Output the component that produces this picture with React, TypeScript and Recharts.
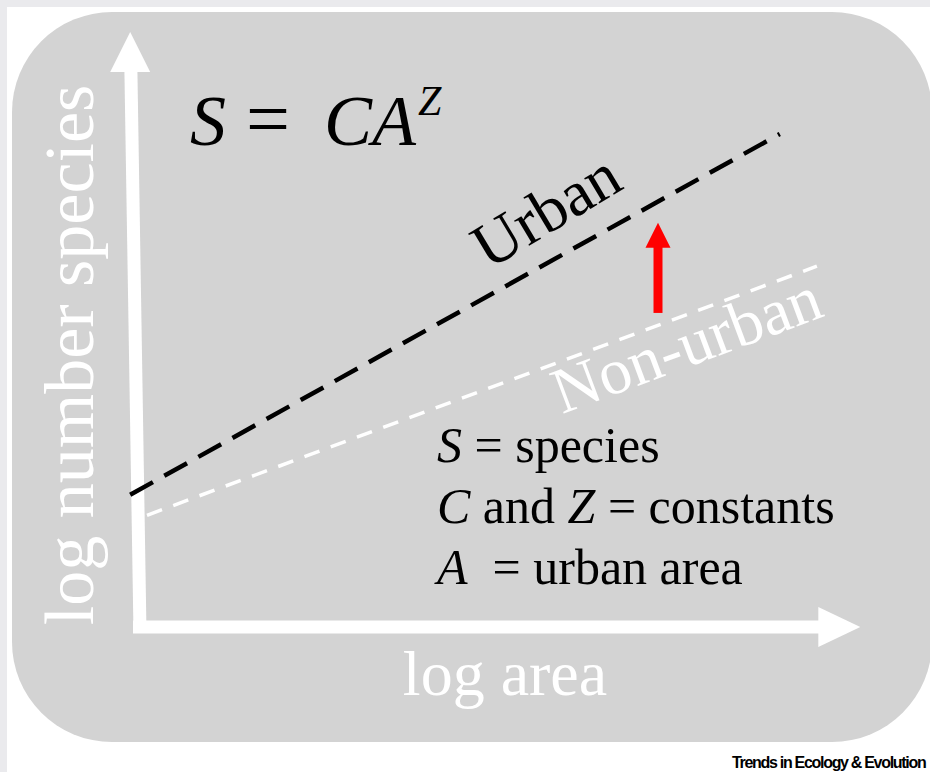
import { ComposedChart, Line, XAxis, YAxis, ReferenceLine, ReferenceDot } from "recharts";

// x = log area, y = log number species (arbitrary units)
const urban = [
  { area: -0.14, species: 2.32 },
  { area: 9.14, species: 8.65 },
];
const nonUrban = [
  { area: 0.1, species: 1.96 },
  { area: 9.67, species: 6.33 },
];

// arrows: [shaft start, shaft end, tip]
const yArrow = [
  { area: 0, species: -0.1 },
  { area: -0.13, species: 9.76 },
  { area: -0.14, species: 10.44 },
];
const xArrow = [
  { area: -0.1, species: 0 },
  { area: 9.71, species: 0 },
  { area: 10.29, species: 0 },
];
const shiftArrow = [
  { area: 7.4, species: 5.51 },
  { area: 7.4, species: 6.7 },
  { area: 7.4, species: 7.09 },
];

const legendLines = [
  { sym: "S", rest: " = species" },
  { sym: "C", rest: " and ", sym2: "Z", rest2: " = constants" },
  { sym: "A", rest: "  = urban area" },
];

const SERIF = '"Liberation Serif", "Times New Roman", serif';

const Head = (props: any) => {
  const { cx, cy, dir, len, half, fill } = props;
  if (cx == null || cy == null) return null;
  const pts =
    dir === "up"
      ? `${cx},${cy} ${cx - half},${cy + len} ${cx + half},${cy + len}`
      : `${cx},${cy} ${cx - len},${cy - half} ${cx - len},${cy + half}`;
  return <polygon points={pts} fill={fill} />;
};

const seg = (a: { area: number; species: number }, b: { area: number; species: number }) => [
  { x: a.area, y: a.species },
  { x: b.area, y: b.species },
];

export default function App() {
  return (
    <div
      style={{
        position: "absolute",
        left: 0,
        top: 0,
        width: 930,
        height: 772,
        overflow: "hidden",
        background: "#eaeaed",
        fontFamily: SERIF,
      }}
    >
      <div style={{ position: "absolute", left: 7, top: 7, width: 923, height: 765, background: "#fff" }} />
      <div
        style={{
          position: "absolute",
          left: 12,
          top: 12,
          width: 920,
          height: 730,
          borderRadius: 100,
          background: "#d3d3d3",
        }}
      />
      <div style={{ position: "absolute", left: 0, top: 0 }}>
        <ComposedChart width={930} height={772} margin={{ top: 22.8, right: 62, bottom: 122.2, left: 112 }}>
          <XAxis type="number" dataKey="area" domain={[-0.4, 10.4]} hide allowDataOverflow />
          <YAxis type="number" dataKey="species" domain={[-0.4, 10.6]} hide allowDataOverflow />

          <ReferenceLine segment={seg(yArrow[0], yArrow[1])} stroke="#fff" strokeWidth={13} ifOverflow="visible" />
          <ReferenceDot
            x={yArrow[2].area}
            y={yArrow[2].species}
            ifOverflow="visible"
            shape={(p: any) => <Head {...p} dir="up" len={40} half={20} fill="#fff" />}
          />
          <ReferenceLine segment={seg(xArrow[0], xArrow[1])} stroke="#fff" strokeWidth={13} ifOverflow="visible" />
          <ReferenceDot
            x={xArrow[2].area}
            y={xArrow[2].species}
            ifOverflow="visible"
            shape={(p: any) => <Head {...p} dir="right" len={42} half={20} fill="#fff" />}
          />

          <Line
            data={nonUrban}
            dataKey="species"
            type="linear"
            stroke="#fff"
            strokeWidth={3.5}
            strokeDasharray="16 12"
            dot={false}
            isAnimationActive={false}
          />
          <Line
            data={urban}
            dataKey="species"
            type="linear"
            stroke="#000"
            strokeWidth={4.5}
            strokeDasharray="26 13"
            dot={false}
            isAnimationActive={false}
          />

          <ReferenceLine segment={seg(shiftArrow[0], shiftArrow[1])} stroke="#ff0000" strokeWidth={9} ifOverflow="visible" />
          <ReferenceDot
            x={shiftArrow[2].area}
            y={shiftArrow[2].species}
            ifOverflow="visible"
            shape={(p: any) => <Head {...p} dir="up" len={25} half={12.5} fill="#ff0000" />}
          />

          <text y={145} fontFamily={SERIF} fontSize={72} fill="#000">
            <tspan x={190} fontFamily={SERIF} fontStyle="italic">S</tspan>
            <tspan x={246} fontFamily={SERIF} fontSize={78}>=</tspan>
            <tspan x={324} fontFamily={SERIF} fontStyle="italic">CA</tspan>
            <tspan x={418} y={115} fontFamily={SERIF} fontSize={42} fontStyle="italic">Z</tspan>
          </text>

          <text
            x={557}
            y={229}
            transform="rotate(-31 557 229)"
            textAnchor="middle"
            fontFamily={SERIF}
            fontSize={64}
            fill="#000"
          >
            Urban
          </text>
          <text
            x={694}
            y={365}
            transform="rotate(-20.5 694 365)"
            textAnchor="middle"
            fontFamily={SERIF}
            fontSize={65}
            fill="#fff"
          >
            Non-urban
          </text>

          <text
            x={93}
            y={355}
            transform="rotate(-90 93 355)"
            textAnchor="middle"
            fontFamily={SERIF}
            fontSize={70}
            fill="#fff"
          >
            log number species
          </text>
          <text x={505} y={695} textAnchor="middle" fontFamily={SERIF} fontSize={64} fill="#fff">
            log area
          </text>

          {legendLines.map((l, i) => (
            <text
              key={i}
              x={437}
              y={462 + i * 61}
              fontFamily={SERIF}
              fontSize={50}
              fill="#000"
              style={{ whiteSpace: "pre", fontFamily: SERIF }}
            >
              <tspan fontFamily={SERIF} fontStyle="italic">{l.sym}</tspan>
              <tspan fontFamily={SERIF}>{l.rest}</tspan>
              {l.sym2 && <tspan fontFamily={SERIF} fontStyle="italic">{l.sym2}</tspan>}
              {l.rest2 && <tspan fontFamily={SERIF}>{l.rest2}</tspan>}
            </text>
          ))}

          <text
            x={732}
            y={768}
            fontFamily='"Liberation Sans", Arial, sans-serif'
            fontWeight="bold"
            fontSize={16}
            letterSpacing={-1.3}
            fill="#000"
          >
            Trends in Ecology &amp; Evolution
          </text>
        </ComposedChart>
      </div>
    </div>
  );
}
